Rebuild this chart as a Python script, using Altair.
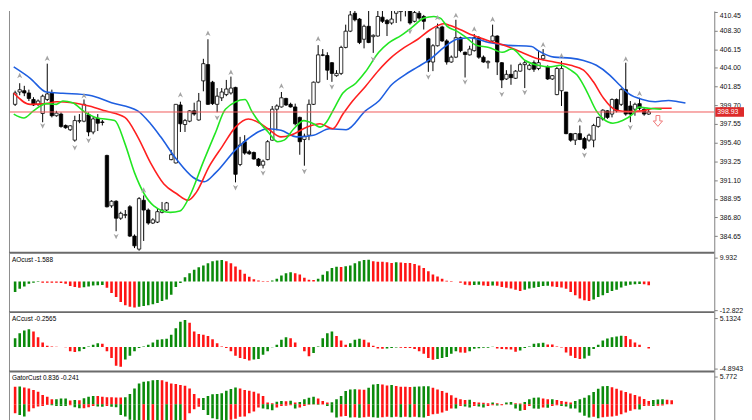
import altair as alt
import pandas as pd
import numpy as np

FONT = "Liberation Sans"
W = 712
H_MAIN, H_SUB = 244, 60

# ---------------- price candles ----------------
opens = [399.81, 401.23, 401.38, 401.12, 400.37, 399.81, 398.76, 400.37, 401.12, 398.50,
         398.69, 397.38, 396.89, 395.69, 397.87, 397.87, 398.61, 396.63, 398.20, 397.79,
         393.93, 388.13, 388.66, 386.71, 387.05, 388.02, 384.65, 383.15, 388.77, 387.65,
         386.15, 386.26, 387.38, 387.65, 393.45, 393.07, 399.74, 397.49, 397.87, 399.06,
         398.01, 402.51, 404.38, 402.36, 399.81, 400.56, 400.93, 401.12, 401.76, 392.89,
         395.51, 394.35, 394.27, 393.52, 392.81, 393.45, 395.69, 399.25, 399.51, 400.49,
         399.81, 399.51, 398.31, 395.77, 396.26, 399.81, 402.36, 405.50, 405.43, 404.60,
         403.11, 403.37, 406.36, 408.23, 410.29, 409.62, 407.30, 408.79, 407.60, 407.67,
         409.84, 409.47, 409.17, 410.29, 410.48, 410.67, 411.30, 409.36, 410.29, 409.92,
         407.37, 404.68, 406.55, 408.72, 407.11, 404.68, 405.24, 407.48, 405.80, 405.50,
         405.99, 407.48, 405.24, 404.60, 407.11, 407.67, 404.60, 402.73, 403.26, 402.81,
         403.63, 404.38, 403.85, 404.60, 403.93, 405.05, 404.12, 402.73, 400.93, 401.38,
         401.23, 396.44, 395.69, 396.44, 395.88, 395.69, 395.69, 397.27, 398.13, 399.06,
         398.69, 400.37, 399.81, 401.50, 399.62, 399.25, 399.89, 399.25, 398.69]
highs = [401.38, 402.24, 401.94, 401.50, 400.63, 400.37, 400.93, 404.49, 401.50, 399.06,
         398.88, 397.49, 397.42, 398.50, 398.69, 400.37, 398.88, 398.39, 398.69, 398.01,
         394.01, 388.77, 388.77, 387.46, 387.65, 388.21, 384.84, 389.14, 389.33, 387.83,
         386.71, 387.83, 388.58, 388.58, 394.57, 399.85, 400.11, 398.13, 399.14, 400.00,
         401.12, 405.05, 407.30, 402.51, 401.68, 401.68, 402.62, 403.00, 401.83, 396.07,
         396.26, 394.57, 394.38, 393.64, 393.45, 395.69, 399.62, 399.81, 401.23, 400.56,
         400.00, 399.89, 398.39, 396.44, 400.37, 402.43, 406.62, 406.17, 405.80, 404.68,
         403.74, 406.55, 408.98, 410.85, 411.20, 409.73, 408.98, 411.30, 407.86, 411.40,
         411.20, 409.62, 411.30, 411.60, 411.80, 412.00, 411.70, 411.30, 411.10, 410.10,
         407.48, 406.74, 409.10, 408.87, 407.30, 405.43, 409.54, 407.60, 405.88, 406.55,
         407.90, 407.67, 405.43, 404.86, 408.98, 407.75, 404.68, 403.74, 404.38, 403.74,
         404.60, 404.86, 404.49, 404.86, 405.99, 406.17, 404.30, 403.18, 404.12, 404.80,
         401.23, 396.52, 396.52, 397.38, 396.07, 396.44, 397.57, 398.39, 399.25, 399.14,
         400.49, 400.49, 401.68, 404.60, 400.19, 400.00, 400.56, 399.36, 399.25]
lows = [399.62, 400.86, 400.75, 400.19, 399.62, 399.62, 397.75, 400.19, 398.31, 398.39,
        397.12, 397.00, 396.74, 395.51, 397.64, 397.75, 396.14, 396.37, 396.74, 397.38,
        387.95, 387.91, 385.21, 386.52, 386.71, 384.54, 383.27, 382.97, 384.09, 385.96,
        386.04, 386.15, 387.27, 387.53, 393.37, 393.00, 396.63, 396.63, 397.75, 398.50,
        397.94, 401.31, 399.74, 399.74, 398.90, 400.19, 400.75, 400.93, 390.83, 392.70,
        394.01, 394.01, 393.45, 392.62, 392.44, 393.37, 395.62, 396.82, 399.44, 399.62,
        399.44, 397.38, 394.01, 392.75, 395.69, 399.74, 402.24, 405.35, 402.62, 402.40,
        402.99, 403.18, 406.25, 408.12, 409.36, 406.74, 406.25, 406.85, 405.73, 407.60,
        409.17, 407.67, 408.98, 409.17, 409.36, 409.92, 408.98, 409.24, 409.54, 408.42,
        403.55, 403.63, 406.47, 406.99, 404.38, 404.60, 405.13, 405.80, 402.90, 405.43,
        405.88, 405.05, 404.60, 403.93, 406.99, 403.18, 401.68, 402.62, 402.06, 402.73,
        403.55, 401.68, 403.74, 403.55, 403.74, 404.86, 402.62, 402.62, 400.86, 399.62,
        396.37, 395.51, 395.13, 395.69, 394.57, 395.51, 394.87, 397.12, 397.94, 398.13,
        398.31, 398.88, 399.62, 398.50, 397.75, 398.50, 399.14, 398.50, 398.61]
closes = [401.12, 401.49, 401.12, 400.49, 399.74, 400.19, 400.75, 401.01, 398.50, 398.80,
          397.27, 397.12, 397.34, 397.94, 397.94, 399.81, 396.63, 398.13, 397.64, 397.72,
          388.02, 388.66, 386.71, 387.27, 387.12, 384.65, 383.53, 388.96, 387.65, 386.15,
          386.52, 387.46, 387.65, 388.47, 394.01, 399.81, 397.57, 397.94, 399.06, 398.69,
          400.19, 404.49, 399.81, 399.89, 400.75, 401.23, 401.57, 401.68, 391.76, 395.13,
          394.20, 394.12, 393.52, 392.77, 393.26, 395.51, 399.25, 399.62, 400.56, 399.74,
          399.51, 397.57, 395.51, 396.14, 399.81, 402.36, 405.50, 405.46, 403.74, 403.37,
          403.37, 406.36, 408.23, 410.10, 409.54, 406.92, 408.79, 406.92, 407.75, 409.92,
          409.36, 409.09, 409.62, 411.23, 411.40, 411.50, 409.17, 410.37, 409.73, 409.36,
          404.68, 406.55, 408.61, 407.11, 404.68, 405.24, 407.48, 405.99, 405.54, 406.17,
          407.48, 405.24, 404.68, 404.75, 407.67, 404.68, 402.62, 403.26, 402.88, 403.63,
          404.38, 404.60, 404.30, 403.85, 404.60, 405.43, 402.73, 403.11, 403.93, 403.93,
          396.44, 395.69, 396.44, 395.77, 394.76, 396.26, 397.38, 398.31, 399.14, 398.31,
          400.37, 399.06, 401.50, 398.69, 398.69, 399.81, 399.36, 398.69, 398.93]

# ---------------- Alligator lines (bar index, price) ----------------
jaw_i = [-0.3, 3.3, 6.8, 10.4, 16.1, 21, 26.7, 29.5, 31.7, 35.2, 38.8, 41.2, 43.7, 48, 50.8,
         55.1, 57.9, 61.4, 65, 68.5, 72.1, 76.3, 79.2, 82, 84.8, 87.7, 90.5, 93.4, 96.2, 99,
         103.2, 106.8, 112.5, 113.9, 117.4, 121, 123.8, 126.6, 129.5, 131.6, 133.7, 136.6,
         139.4, 142.3, 144.4, 146]
jaw_v = [404.12, 402.81, 401.23, 401.08, 400.86, 400.00, 399.06, 397.57, 396.07, 393.45,
         391.39, 390.90, 391.95, 394.57, 395.88, 397.00, 396.82, 396.07, 396.26, 397.00,
         396.89, 399.06, 400.19, 402.06, 403.18, 404.12, 405.05, 406.36, 407.30, 407.48,
         406.92, 406.62, 406.47, 405.99, 405.24, 405.13, 404.86, 404.30, 403.18, 402.06,
         401.01, 400.37, 400.11, 400.26, 400.11, 399.96]
teeth_i = [-0.3, 3.3, 6.8, 9, 12.5, 16.1, 19.6, 23.9, 26.7, 29.5, 32.4, 35.2, 37.7, 39.5, 42.3,
           45.1, 48, 50.8, 52.9, 55.1, 57.9, 60, 63.6, 66.4, 69.2, 71.4, 73.5, 76.3, 79.2, 82,
           84.8, 87.7, 90.5, 93.4, 94.8, 96.9, 99.7, 103.2, 106.8, 110.3, 113.9, 117.4, 121,
           123.8, 125.9, 128.1, 130.9, 133.7, 136.6, 139.4, 143]
teeth_v = [401.12, 399.81, 399.89, 400.11, 400.00, 399.62, 399.06, 398.31, 396.07, 393.07,
           390.64, 389.52, 388.77, 389.71, 392.70, 394.95, 397.19, 398.13, 397.75, 397.00,
           396.07, 396.26, 397.19, 397.57, 397.00, 398.69, 400.19, 401.87, 403.74, 405.24,
           406.36, 407.30, 408.42, 409.09, 408.87, 408.42, 407.75, 407.11, 406.55, 405.80,
           405.05, 404.68, 404.30, 403.74, 402.43, 400.56, 399.14, 398.99, 399.06, 399.36,
           399.36]
lips_i = [-0.3, 1.9, 4, 6.8, 9, 10.4, 12.5, 15.3, 17.5, 21.7, 23.9, 26, 28.1, 30.2, 33.8,
          35.9, 38.1, 40.9, 43.7, 45.8, 50.1, 51.5, 52.9, 55.1, 57.2, 58.6, 60.7, 62.9, 65,
          66.4, 67.8, 69.2, 71.4, 74.2, 76.3, 79.2, 81.3, 84.1, 86.3, 89.1, 91.2, 92.6, 94.1,
          96.2, 98.3, 100.4, 103.2, 106.1, 108.2, 111.1, 113.9, 116.7, 118.8, 121, 122.4,
          124.5, 126.6, 128.1, 130.2, 132.3, 134.5, 135.9, 138, 140.8]
lips_v = [398.69, 398.24, 399.06, 399.89, 399.81, 400.19, 400.00, 398.88, 398.31, 397.94,
          395.32, 391.95, 389.52, 388.13, 387.38, 387.53, 389.33, 393.07, 396.63, 399.25,
          400.37, 399.06, 397.94, 396.63, 395.51, 395.69, 397.00, 397.94, 397.57, 397.19,
          397.75, 399.06, 401.12, 402.24, 403.55, 405.80, 406.85, 407.75, 408.61, 409.73,
          409.92, 409.73, 408.79, 408.23, 407.48, 406.62, 406.36, 405.80, 406.17, 404.86,
          404.30, 404.12, 404.30, 403.74, 403.18, 401.31, 399.06, 398.13, 397.64, 397.94,
          398.69, 399.51, 399.36, 399.25]

# ---------------- fractals & signal ----------------
frac_up_i = [1, 7, 15, 28, 36, 42, 47, 58, 66, 92, 96, 100, 104, 115, 119, 123, 133, 136]
frac_up_v = [403.07, 405.05, 400.75, 389.89, 400.86, 407.93, 403.44, 401.87, 407.30, 409.73,
             409.99, 408.42, 409.54, 406.62, 405.35, 397.94, 404.98, 401.01]
frac_dn_i = [6, 13, 16, 22, 44, 48, 54, 63, 69, 78, 86, 90, 98, 106, 111, 124, 134]
frac_dn_v = [397.38, 394.87, 395.69, 384.65, 398.31, 390.27, 391.95, 392.14, 401.87, 405.05,
             408.23, 403.00, 402.43, 401.01, 401.23, 394.01, 397.19]
signal_i = [140]
signal_v = [397.90]
last_price = 398.93
price_ticks = [384.65, 386.80, 388.95, 391.10, 393.25, 395.40, 397.55, 399.70, 401.85,
               404.00, 406.15, 408.30, 410.45]

# ---------------- oscillators ----------------
ao = [-4.41, -3.03, -2.07, -0.97, -0.55, -0.28, -0.50, -0.55, -0.58, -0.60,
      -0.70, -0.97, -1.93, -2.34, -2.62, -2.40, -2.10, -1.65, -1.55, -1.50,
      -2.62, -4.83, -6.48, -8.55, -9.93, -10.6, -10.9, -10.6, -10.3, -9.93,
      -9.5, -8.96, -8.14, -7.58, -5.52, -2.34, -0.69, 1.79, 3.45, 4.83,
      5.93, 6.62, 7.58, 8.41, 8.69, 8.96, 8.41, 7.58, 6.21, 4.83,
      3.17, 2.0, 0.9, 0.35, 0.2, 0.14, 0.41, 1.10, 2.48, 3.45,
      3.86, 3.45, 2.90, 1.52, 0.69, 0.55, 1.10, 2.76, 4.27, 5.65,
      6.1, 6.0, 6.3, 6.62, 7.58, 8.41, 8.96, 9.1, 8.41, 8.27,
      8.2, 8.0, 7.72, 8.0, 7.86, 7.72, 7.65, 7.31, 6.62, 5.65,
      4.27, 2.90, 2.07, 1.10, 0.28, 0.14, -0.05, -0.55, -1.38, -1.55,
      -1.45, -1.40, -1.7, -1.9, -1.65, -1.8, -2.34, -2.62, -3.0, -3.45,
      -4.0, -3.45, -3.0, -2.62, -2.34, -1.93, -1.79, -2.07, -2.34, -2.5,
      -3.03, -4.41, -5.79, -7.17, -7.86, -8.14, -7.58, -6.48, -5.79, -4.83,
      -4.0, -3.45, -2.5, -1.8, -1.4, -1.2, -1.05, -1.2, -1.588]
ac = [1.58, 2.46, 2.93, 3.16, 2.75, 1.76, 0.82, 0.23, 0.1, 0.05,
      0.0, -0.05, -0.76, -0.88, -0.76, -0.35, 0.12, 0.41, 0.70, 0.59,
      -0.76, -1.93, -3.3, -3.5, -2.2, -1.52, -0.76, -0.18, 0.12, 0.41,
      0.82, 1.29, 1.41, 1.47, 2.17, 3.34, 4.51, 4.81, 4.34, 2.75,
      2.34, 2.17, 1.99, 1.41, 0.70, 0.12, -0.18, -0.76, -1.52, -1.93,
      -2.11, -2.4, -2.2, -2.1, -1.35, -0.76, -0.05, 0.41, 1.29, 1.76,
      1.58, 0.82, 0.0, -0.76, -1.64, -1.05, 0.12, 1.58, 2.46, 2.75,
      1.99, 1.17, 0.41, 0.70, 1.29, 1.47, 1.29, 0.82, 0.23, -0.23,
      -0.29, -0.23, -0.18, -0.06, -0.12, -0.15, -0.18, -0.35, -0.76, -1.17,
      -1.93, -2.23, -2.11, -1.93, -1.76, -1.17, -0.76, -0.94, -1.0, -0.76,
      -0.3, -0.2, -0.12, -0.10, 0.05, -0.23, -0.35, -0.40, -0.45, -0.82,
      -0.59, -0.18, 0.12, 0.59, 0.70, 0.75, 0.47, 0.45, 0.12, -0.06,
      -0.94, -1.52, -1.93, -2.1, -2.05, -1.52, -0.35, 0.41, 1.17, 1.52,
      1.76, 1.87, 2.0, 1.99, 1.41, 0.82, 0.41, 0.0, -0.2565]
gator_up = [3.6, 3.65, 3.47, 3.26, 2.92, 2.58, 1.90, 1.56, 1.02, 1.05,
            1.16, 1.18, 0.75, 0.88, 0.80, 1.22, 1.56, 1.70, 1.68, 1.56,
            1.43, 1.42, 1.41, 1.40, 1.45, 2.10, 3.26, 4.28, 4.62, 4.76,
            4.96, 5.00, 4.95, 4.62, 4.28, 4.15, 3.94, 3.81, 3.26, 2.10,
            1.22, 1.30, 1.70, 2.04, 2.10, 2.24, 2.79, 3.13, 3.47, 3.26,
            2.92, 2.79, 2.58, 2.2, 1.7, 0.34, 0.2, 0.5, 0.68, 0.6,
            0.7, 0.34, 0.48, 1.02, 1.36, 1.56, 1.16, 0.68, 0.34, 0.4,
            1.02, 1.70, 2.72, 3.06, 3.10, 3.05, 3.0, 3.40, 4.08, 4.15,
            4.08, 3.87, 3.95, 3.74, 3.60, 3.58, 3.56, 3.6, 3.65, 3.7,
            3.72, 3.40, 3.06, 2.72, 2.38, 1.84, 1.36, 1.02, 0.88, 0.95,
            0.48, 0.34, 0.30, 0.2, 0.34, 0.2, 0.05, 0.34, 0.48, 0.2,
            0.15, 0.48, 1.02, 1.36, 1.40, 1.16, 1.02, 1.05, 0.88, 0.68,
            0.54, 0.34, 0.68, 1.02, 1.36, 1.84, 2.52, 3.19, 3.7, 3.74,
            3.5, 3.2, 2.85, 2.5, 2.2, 1.9, 1.6, 1.1, 0.68, 0.88,
            1.0, 1.02, 0.95, 0.836]
gator_dn = [-1.84, -2.2, -2.5, -1.5, -0.82, -0.48, -0.34, -0.14, -0.2, -0.34,
            -0.36, -0.38, -0.2, -0.6, -0.82, -0.8, -0.6, -0.34, -0.48, -0.5,
            -0.34, -0.5, -0.62, -2.2, -2.5, -3.2, -3.3, -3.35, -3.3, -3.4,
            -3.3, -3.35, -3.3, -3.4, -3.3, -3.35, -3.4, -3.3, -1.84, -1.02,
            -0.5, -1.16, -2.2, -2.86, -3.1, -3.25, -3.3, -3.2, -3.0, -2.6,
            -2.5, -1.84, -1.5, -0.68, -0.9, -1.02, -1.22, -0.68, -0.34, -0.3,
            -0.2, -0.9, -0.68, -0.34, -0.1, -0.05, -0.08, -0.05, -0.34, -1.70,
            -2.72, -2.5, -2.4, -2.72, -2.7, -2.8, -2.7, -2.6, -2.7, -2.8,
            -2.7, -2.6, -2.7, -2.6, -2.7, -2.6, -2.7, -2.6, -2.7, -2.75,
            -2.40, -2.04, -1.98, -1.70, -1.36, -0.88, -0.9, -0.34, -0.48, -0.68,
            -0.34, -0.48, -0.68, -0.34, -0.2, -0.25, -0.2, -0.05, -0.1, -0.88,
            -1.36, -1.16, -0.34, -0.9, -0.92, -0.68, -0.70, -0.34, -0.2, -0.34,
            -0.48, -0.88, -0.9, -1.70, -2.38, -2.72, -2.6, -2.9, -2.7, -2.6,
            -2.5, -2.38, -2.04, -1.70, -1.36, -1.02, -1.1, -0.34, -0.3, -0.35,
            -0.30, -0.241]

GREEN, RED = "#0b8a0b", "#ff1414"


def trend_colors(vals, use_abs=False, first=GREEN):
    out = []
    for j, v in enumerate(vals):
        if j == 0:
            out.append(first)
        else:
            a, b = (abs(v), abs(vals[j - 1])) if use_abs else (v, vals[j - 1])
            out.append(GREEN if a > b else RED)
    return out


xs = alt.Scale(domain=[-0.255, 151.2], nice=False, zero=False)


def X(f):
    return alt.X(f, scale=xs, axis=None)


axis_common = dict(orient="right", grid=False, domainColor="#7f7f7f", tickColor="#7f7f7f",
                   tickSize=3, labelFont=FONT, labelFontSize=7, labelColor="#111111",
                   labelPadding=2, title=None)
ONE = pd.DataFrame({"a": [0]})

# ---------------- main price panel ----------------
ys_main = alt.Scale(domain=[382.74, 410.55], nice=False, zero=False)
MAIN_AXIS = alt.Axis(values=price_ticks, format=".2f", labelFlush=3, **axis_common)


def YM(f):
    return alt.Y(f, scale=ys_main, axis=MAIN_AXIS)


cdf = pd.DataFrame({"i": np.arange(len(opens)), "o": opens, "h": highs, "l": lows, "c": closes})
cdf["top"] = cdf[["o", "c"]].max(axis=1)
cdf["bot"] = cdf[["o", "c"]].min(axis=1)
cdf["fill"] = np.where(cdf["c"] >= cdf["o"], "white", "black")

wicks = alt.Chart(cdf).mark_rule(color="black", strokeWidth=1, clip=True).encode(
    x=X("i:Q"), y=YM("l:Q"), y2="h:Q")
bodies = alt.Chart(cdf).mark_bar(size=3.4, stroke="black", strokeWidth=0.8, clip=True).encode(
    x=X("i:Q"), y=YM("bot:Q"), y2="top:Q", color=alt.Color("fill:N", scale=None))


def ma_line(ii, vv, col):
    return alt.Chart(pd.DataFrame({"i": ii, "v": vv})).mark_line(
        color=col, strokeWidth=1.6, clip=True, interpolate="monotone").encode(
        x=X("i:Q"), y=YM("v:Q"))


jaw = ma_line(jaw_i, jaw_v, "#1f5fe0")
teeth = ma_line(teeth_i, teeth_v, "#ff2020")
lips = ma_line(lips_i, lips_v, "#22e622")

UP_PATH = "M0,-1L0.8,0.7L0,0.2L-0.8,0.7Z"
DN_PATH = "M0,1L0.8,-0.7L0,-0.2L-0.8,-0.7Z"
fup = alt.Chart(pd.DataFrame({"i": frac_up_i, "v": frac_up_v})).mark_point(
    shape=UP_PATH, filled=True, color="#a4a4a4", size=42, opacity=1, clip=True).encode(
    x=X("i:Q"), y=YM("v:Q"))
fdn = alt.Chart(pd.DataFrame({"i": frac_dn_i, "v": frac_dn_v})).mark_point(
    shape=DN_PATH, filled=True, color="#a4a4a4", size=42, opacity=1, clip=True).encode(
    x=X("i:Q"), y=YM("v:Q"))

ARROW = "M-0.35,-1L0.35,-1L0.35,0L0.85,0L0,1L-0.85,0L-0.35,0Z"
sig = alt.Chart(pd.DataFrame({"i": signal_i, "v": signal_v})).mark_point(
    shape=ARROW, filled=True, fill="white", stroke="#f07a7a", strokeWidth=1, size=120,
    opacity=1).encode(x=X("i:Q"), y=YM("v:Q"))

pdf = pd.DataFrame({"p": [last_price]})
price_rule = alt.Chart(pdf).mark_rule(color="#f05a5a", strokeWidth=1).encode(y=YM("p:Q"))
price_box = alt.Chart(pdf).transform_calculate(
    p1="datum.p + 0.55", p0="datum.p - 0.55").mark_rect(color="#dd2a2a").encode(
    x=alt.value(W + 1), x2=alt.value(W + 30), y=YM("p1:Q"), y2="p0:Q")
price_txt = alt.Chart(pdf).mark_text(align="left", baseline="middle", font=FONT, fontSize=7,
                                     color="white").encode(
    x=alt.value(W + 3), y=YM("p:Q"), text=alt.Text("p:Q", format=".2f"))
left_main = alt.Chart(ONE).mark_rule(color="#8c8c8c", strokeWidth=1).encode(
    x=alt.value(0.5), y=alt.value(0), y2=alt.value(H_MAIN))

main = alt.layer(wicks, bodies, jaw, teeth, lips, fup, fdn, price_rule, sig, price_box,
                 price_txt, left_main).properties(width=W, height=H_MAIN)


# ---------------- sub panels ----------------
def hist_panel(df, domain, vals, expr, title):
    ys = alt.Scale(domain=domain, nice=False, zero=False)
    bars = alt.Chart(df).mark_bar(size=2.6, clip=True).encode(
        x=X("i:Q"),
        y=alt.Y("v:Q", scale=ys, axis=alt.Axis(values=vals, labelExpr=expr, **axis_common)),
        y2="z:Q", color=alt.Color("col:N", scale=None))
    sep = alt.Chart(ONE).mark_rule(color="#6b6b6b", strokeWidth=2).encode(
        x=alt.value(0), x2=alt.value(W), y=alt.value(0))
    left = alt.Chart(ONE).mark_rule(color="#8c8c8c", strokeWidth=1).encode(
        x=alt.value(0.5), y=alt.value(0), y2=alt.value(H_SUB))
    ttl = alt.Chart(pd.DataFrame({"t": [title]})).mark_text(
        align="left", baseline="top", font=FONT, fontSize=6.5, color="black").encode(
        x=alt.value(3), y=alt.value(4), text="t:N")
    return alt.layer(bars, sep, left, ttl).properties(width=W, height=H_SUB)


ao_df = pd.DataFrame({"i": np.arange(len(ao)), "v": ao, "z": 0.0,
                      "col": trend_colors(ao)})
ac_df = pd.DataFrame({"i": np.arange(len(ac)), "v": ac, "z": 0.0,
                      "col": trend_colors(ac)})
g_df = pd.concat([
    pd.DataFrame({"i": np.arange(len(gator_up)), "v": gator_up, "z": 0.0,
                  "col": trend_colors(gator_up, True, RED)}),
    pd.DataFrame({"i": np.arange(len(gator_dn)), "v": gator_dn, "z": 0.0,
                  "col": trend_colors(gator_dn, True, RED)}),
], ignore_index=True)

p_ao = hist_panel(ao_df, [-12.82, 12.0], [9.932, -12.0],
                  "datum.value > 0 ? '9.932' : '-12.822'", f"AOcust {ao[-1]:.3f}")
p_ac = hist_panel(ac_df, [-4.35, 6.21], [5.1324, -3.87],
                  "datum.value > 0 ? '5.1324' : '-4.8943'", f"ACcust {ac[-1]:.4f}")
p_g = hist_panel(g_df, [-5.51, 6.73], [5.772], "'5.772'",
                 f"GatorCust {gator_up[-1]:.3f} {gator_dn[-1]:.3f}")

chart = alt.vconcat(main, p_ao, p_ac, p_g, spacing=0, bounds="flush", padding=0).resolve_scale(
    y="independent").configure_view(strokeWidth=0).properties(background="white")

chart.save("out.html", embed_options={"renderer": "svg", "actions": False})
